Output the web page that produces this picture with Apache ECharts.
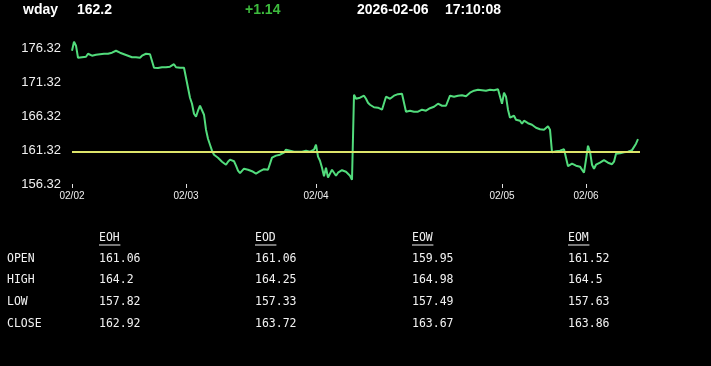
<!DOCTYPE html>
<html>
<head>
<meta charset="utf-8">
<script src="https://cdn.jsdelivr.net/npm/echarts@6/dist/echarts.min.js"></script>
<style>
html,body{margin:0;padding:0;background:#000;}
#chart{width:711px;height:366px;}
</style>
</head>
<body>
<div id="chart"></div>
<script>
// ---- header ----
const symbolName = 'wday';
const lastPrice = '162.2';
const priceChange = '+1.14';
const quoteDate = '2026-02-06';
const quoteTime = '17:10:08';

// ---- price series (one point per sample) ----
const prices = [
175.92,177.25,176.66,174.89,175.04,174.97,175.04,175.04,175.48,175.63,
175.19,175.04,175.33,175.26,175.41,175.33,175.48,175.33,175.48,175.41,
175.63,175.78,175.92,175.78,175.63,175.56,175.41,175.26,175.19,175.04,
174.97,175.04,174.97,175.04,174.89,175.19,175.33,175.48,175.19,175.41,
175.19,173.42,173.42,173.38,173.42,173.50,173.47,173.50,173.53,173.57,
173.72,173.94,173.50,173.42,173.42,173.38,173.42,173.35,170.48,169.01,
168.13,166.66,166.22,167.10,167.83,167.54,166.51,164.31,162.98,162.10,
161.22,160.63,160.34,160.19,159.90,159.60,159.31,159.16,159.60,159.90,
159.75,159.67,159.01,158.28,157.91,158.13,158.57,158.64,158.42,158.20,
158.20,158.06,157.84,157.69,158.20,158.42,158.50,158.57,158.42,158.42,
160.19,160.34,160.49,160.56,160.63,160.71,160.93,161.37,161.30,161.22,
161.15,161.07,161.00,161.07,161.15,161.07,161.15,161.22,161.30,161.07,
161.00,161.37,162.10,160.34,159.75,158.72,157.47,158.72,157.25,157.84,
158.42,157.98,157.54,157.98,158.20,158.35,158.42,158.13,157.84,157.54,
156.95,169.45,168.86,168.79,169.01,169.23,169.31,168.86,168.28,167.98,
167.76,167.61,167.83,167.54,167.69,167.25,167.54,169.16,169.01,168.86,
168.86,169.31,169.60,169.53,169.60,169.60,169.60,166.95,167.03,167.10,
166.95,166.95,166.81,166.95,167.17,167.25,167.10,167.10,167.25,167.47,
167.54,167.69,167.98,168.13,167.98,167.83,167.69,167.83,167.76,169.31,
169.23,169.16,169.09,169.31,169.45,169.38,169.45,169.23,169.45,169.75,
169.97,170.04,170.12,170.19,170.19,170.12,170.19,170.04,170.12,170.19,
170.12,170.12,170.19,170.26,170.38,168.13,169.75,169.16,167.25,166.07,
165.99,166.36,165.78,165.99,165.63,165.19,165.63,165.56,165.26,165.48,
165.04,164.75,164.60,164.53,164.38,164.31,164.31,164.45,164.82,164.31,
161.00,161.22,161.15,161.22,161.22,161.30,161.44,161.37,158.94,159.16,
159.31,159.23,159.01,159.09,158.87,158.72,157.98,159.90,161.95,161.07,
159.16,158.57,159.16,159.31,159.45,159.60,159.82,159.75,159.45,159.31,
159.23,159.60,160.78,160.78,160.85,160.93,161.00,161.00,161.07,161.22,
161.30,161.52,162.25,162.91
];
const sampleCount = 285;

// ---- x-axis day labels (sample index where each day starts) ----
const dayLabels = ['02/02', '02/03', '02/04', '02/05', '02/06'];
const dayStartIndex = [0, 57, 122, 215, 257];

// ---- y-axis ----
const yTickValues = [156.32, 161.32, 166.32, 171.32, 176.32];
const yMin = 156.32;
const yMax = 177.50;
const referenceLevel = 161.06;

// ---- summary table ----
const tableColumns = ['EOH', 'EOD', 'EOW', 'EOM'];
const tableRows = ['OPEN', 'HIGH', 'LOW', 'CLOSE'];
const openValues = [161.06, 161.06, 159.95, 161.52];
const highValues = [164.2, 164.25, 164.98, 164.5];
const lowValues = [157.82, 157.33, 157.49, 157.63];
const closeValues = [162.92, 163.72, 163.67, 163.86];

// ---- build ----
const categories = [];
for (let i = 0; i < sampleCount; i++) {
  const k = dayStartIndex.indexOf(i);
  categories.push(k >= 0 ? dayLabels[k] : String(i));
}
const isDayStart = (idx) => dayStartIndex.indexOf(idx) >= 0;

const headerFont = 'bold 14px "Liberation Sans", Arial, sans-serif';
const monoFamily = '"DejaVu Sans Mono", monospace';
const graphics = [];
const headerItems = [
  [symbolName, 23, '#ffffff'],
  [lastPrice, 77, '#ffffff'],
  [priceChange, 245, '#3dbb3d'],
  [quoteDate, 357, '#ffffff'],
  [quoteTime, 445, '#ffffff']
];
headerItems.forEach(([t, x, c]) => {
  graphics.push({type: 'text', x: x, y: 10, style: {text: t, fill: c, font: headerFont, textVerticalAlign: 'middle', textAlign: 'left'}});
});

const colX = [99, 255, 412, 568];
const rowY = [259, 280.5, 302, 324];
const tableFont = '11.5px ' + monoFamily;
const rowValues = [openValues, highValues, lowValues, closeValues];
tableColumns.forEach((c, j) => {
  graphics.push({type: 'text', x: colX[j], y: 238, style: {text: c, fill: '#f2f2f2', font: tableFont, textVerticalAlign: 'middle'}});
  graphics.push({type: 'line', shape: {x1: colX[j], y1: 245, x2: colX[j] + c.length * 7.3 - 0.5, y2: 245}, style: {stroke: '#f2f2f2', lineWidth: 1}});
});
tableRows.forEach((r, i) => {
  graphics.push({type: 'text', x: 7, y: rowY[i], style: {text: r, fill: '#f2f2f2', font: tableFont, textVerticalAlign: 'middle'}});
  rowValues[i].forEach((v, j) => {
    graphics.push({type: 'text', x: colX[j], y: rowY[i], style: {text: String(v), fill: '#f2f2f2', font: tableFont, textVerticalAlign: 'middle'}});
  });
});

const chart = echarts.init(document.getElementById('chart'), null, {renderer: 'canvas'});
chart.setOption({
  backgroundColor: '#000000',
  animation: false,
  grid: {left: 72, right: 71, top: 40, bottom: 182},
  xAxis: {
    type: 'category',
    data: categories,
    boundaryGap: false,
    axisLine: {show: false},
    axisTick: {show: true, length: 4, interval: (idx) => isDayStart(idx), lineStyle: {color: '#e0e0e0', width: 1}},
    axisLabel: {interval: (idx) => isDayStart(idx), color: '#f0f0f0', fontSize: 10, margin: 7, fontFamily: '"Liberation Sans", Arial, sans-serif'},
    splitLine: {show: false}
  },
  yAxis: {
    type: 'value',
    min: yMin,
    max: yMax,
    axisLine: {show: false},
    axisTick: {show: false},
    splitLine: {show: false},
    axisLabel: {
      customValues: yTickValues,
      formatter: (v) => Number(v).toFixed(2),
      color: '#f0f0f0',
      fontSize: 13,
      margin: 11,
      fontFamily: '"Liberation Sans", Arial, sans-serif'
    }
  },
  series: [{
    type: 'line',
    data: prices,
    showSymbol: false,
    symbol: 'none',
    lineStyle: {color: '#52dc7c', width: 2},
    markLine: {
      silent: true,
      symbol: ['none', 'none'],
      label: {show: false},
      lineStyle: {color: '#dde46a', width: 2, type: 'solid'},
      data: [{yAxis: referenceLevel}]
    }
  }],
  graphic: graphics
});
</script>
</body>
</html>
